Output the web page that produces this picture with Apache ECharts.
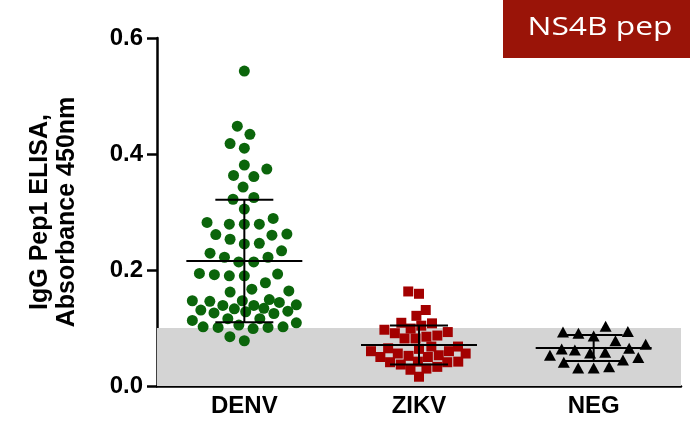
<!DOCTYPE html>
<html>
<head>
<meta charset="utf-8">
<script src="https://cdn.jsdelivr.net/npm/echarts@6/dist/echarts.min.js"></script>
<style>
  html, body { margin: 0; padding: 0; background: #ffffff; }
  #chart { width: 690px; height: 430px; }
</style>
</head>
<body>
<div id="chart"></div>
<script>
// Groups and per-sample absorbance readings
const categories = ['DENV', 'ZIKV', 'NEG'];

const denvValues = [
  0.543, 0.448, 0.434, 0.418, 0.410, 0.381, 0.374, 0.363, 0.361, 0.343,
  0.322, 0.325, 0.305, 0.289, 0.279, 0.279, 0.279, 0.282,
  0.262, 0.260, 0.261, 0.246, 0.245, 0.253, 0.229, 0.222, 0.214, 0.214,
  0.222, 0.233, 0.194, 0.190, 0.178, 0.190, 0.192, 0.193, 0.162, 0.167,
  0.164, 0.147, 0.146, 0.140, 0.139, 0.139, 0.144, 0.147, 0.149, 0.133,
  0.129, 0.126, 0.125, 0.128, 0.131, 0.134, 0.116, 0.113, 0.109, 0.116,
  0.102, 0.101, 0.099, 0.101, 0.102, 0.105, 0.078, 0.085
];

const zikvValues = [
  0.159, 0.163, 0.131, 0.121, 0.108, 0.109, 0.099, 0.093, 0.087, 0.082,
  0.104, 0.097, 0.091, 0.085, 0.082, 0.064, 0.060, 0.056, 0.052, 0.050,
  0.065, 0.060, 0.056, 0.053, 0.050, 0.068, 0.068, 0.042, 0.041, 0.037,
  0.030, 0.028, 0.033, 0.041, 0.042, 0.016
];

const negValues = [
  0.103, 0.094, 0.091, 0.093, 0.086, 0.078, 0.072, 0.064, 0.062, 0.058,
  0.065, 0.053, 0.057, 0.049, 0.045, 0.041, 0.033, 0.031, 0.031
];

// Mean and standard deviation per group
const meanValues = [0.2155, 0.0707, 0.0655];
const sdValues = [0.1055, 0.0338, 0.0225];

// Cut-off shading
const cutoffRange = [0, 0.1];

// Y axis ticks
const yMin = 0, yMax = 0.6, yStep = 0.2;

const FONT = "'Liberation Sans', Arial, sans-serif";
const chart = echarts.init(document.getElementById('chart'), null, { renderer: 'canvas' });

const baseOption = {
  animation: false,
  backgroundColor: '#ffffff',
  grid: { left: 157, right: 9, top: 38, bottom: 44 },
  xAxis: [
    {
      type: 'category',
      data: categories,
      axisLine: { lineStyle: { color: '#000', width: 2.5 } },
      axisTick: { alignWithLabel: true, length: 8, lineStyle: { color: '#000', width: 2.5 } },
      axisLabel: { color: '#000', fontFamily: FONT, fontWeight: 'bold', fontSize: 24, margin: 8 },
      splitLine: { show: false }
    },
    {
      type: 'value',
      min: -0.5, max: 2.5,
      show: false,
      splitLine: { show: false }
    }
  ],
  yAxis: {
    type: 'value',
    min: yMin, max: yMax, interval: yStep,
    name: 'IgG Pep1 ELISA,\nAbsorbance 450nm',
    nameLocation: 'middle',
    nameRotate: 90,
    nameGap: 76,
    nameTextStyle: { color: '#000', fontFamily: FONT, fontWeight: 'bold', fontSize: 25, lineHeight: 27 },
    axisLine: { show: true, onZero: false, lineStyle: { color: '#000', width: 2.5 } },
    axisTick: { show: true, length: 10, lineStyle: { color: '#000', width: 2.5 } },
    axisLabel: { color: '#000', fontFamily: FONT, fontWeight: 'bold', fontSize: 24, margin: 14,
                 formatter: v => v.toFixed(1) },
    splitLine: { show: false }
  },
  graphic: [
    { type: 'rect', right: 0, top: 0, shape: { width: 187, height: 58 },
      style: { fill: '#9a1408' }, z: 10 },
    { type: 'text', x: 600, y: 28, z: 11, scaleX: 1.27,
      style: { x: 0, y: 0, text: 'NS4B pep', fill: '#ffffff', font: "25px 'Open Sans', sans-serif",
               textAlign: 'center', textVerticalAlign: 'middle' } }
  ],
  series: []
};

chart.setOption(baseOption);

// Pixel helpers
const yPx = v => chart.convertToPixel({ yAxisIndex: 0 }, v);
const bandPx = chart.convertToPixel({ xAxisIndex: 1 }, 1) - chart.convertToPixel({ xAxisIndex: 1 }, 0);

// Beeswarm: place each point (low to high) at the nearest free horizontal slot,
// squeezing into the least crowded spot when the column is full.
function swarmOffsets(values, d, maxHalf) {
  const order = values.map((v, i) => i).sort((a, b) => values[a] - values[b]);
  const placed = [];
  const out = new Array(values.length);
  for (const i of order) {
    const y = yPx(values[i]);
    const near = placed.filter(p => Math.abs(p.y - y) < d);
    const blocks = near.map(p => {
      const w = Math.sqrt(d * d - (p.y - y) * (p.y - y));
      return [p.x - w, p.x + w];
    });
    const cands = [0];
    blocks.forEach(b => cands.push(b[0], b[1]));
    cands.sort((a, b) => Math.abs(a) - Math.abs(b) || a - b);
    let x = null;
    for (const c of cands) {
      if (Math.abs(c) > maxHalf) continue;
      if (blocks.every(b => c <= b[0] + 1e-6 || c >= b[1] - 1e-6)) { x = c; break; }
    }
    if (x === null) {
      let best = -1;
      for (let c = -maxHalf; c <= maxHalf; c += 0.5) {
        let md = Infinity;
        near.forEach(p => { md = Math.min(md, Math.hypot(p.x - c, p.y - y)); });
        if (md > best + 1e-6 || (Math.abs(md - best) < 1e-6 && Math.abs(c) < Math.abs(x))) { best = md; x = c; }
      }
    }
    placed.push({ x, y });
    out[i] = x;
  }
  return out;
}

function swarmData(values, catIndex, d, maxHalf) {
  const offs = swarmOffsets(values, d, maxHalf);
  return values.map((v, i) => [catIndex + offs[i] / bandPx, v]);
}

const statsData = categories.map((c, i) => [i, meanValues[i], sdValues[i]]);

chart.setOption({
  series: [
    {
      type: 'line', xAxisIndex: 1, data: [], z: 1, silent: true,
      markArea: {
        silent: true,
        itemStyle: { color: '#d4d4d4' },
        data: [[{ yAxis: cutoffRange[0] }, { yAxis: cutoffRange[1] }]]
      }
    },
    {
      name: categories[0], type: 'scatter', xAxisIndex: 1, z: 3,
      symbol: 'circle', symbolSize: 11,
      itemStyle: { color: '#0b650b', opacity: 1 },
      data: swarmData(denvValues, 0, 15, 52)
    },
    {
      name: categories[1], type: 'scatter', xAxisIndex: 1, z: 3,
      symbol: 'rect', symbolSize: 10,
      itemStyle: { color: '#a30000', opacity: 1 },
      data: swarmData(zikvValues, 1, 11, 52)
    },
    {
      name: categories[2], type: 'scatter', xAxisIndex: 1, z: 3,
      symbol: 'triangle', symbolSize: [12, 11],
      itemStyle: { color: '#000000', opacity: 1 },
      data: swarmData(negValues, 2, 15.5, 52)
    },
    {
      type: 'custom', xAxisIndex: 1, z: 5, silent: true,
      data: statsData,
      renderItem: (params, api) => {
        const c = api.value(0), m = api.value(1), s = api.value(2);
        const pm = api.coord([c, m]);
        const pu = api.coord([c, m + s]);
        const pl = api.coord([c, m - s]);
        const bw = api.size([1, 0])[0];
        const meanHalf = bw * 0.332, capHalf = bw * 0.166;
        const st = { stroke: '#000', lineWidth: 2 };
        return {
          type: 'group',
          children: [
            { type: 'line', shape: { x1: pm[0] - meanHalf, y1: pm[1], x2: pm[0] + meanHalf, y2: pm[1] }, style: st },
            { type: 'line', shape: { x1: pu[0] - capHalf, y1: pu[1], x2: pu[0] + capHalf, y2: pu[1] }, style: st },
            { type: 'line', shape: { x1: pl[0] - capHalf, y1: pl[1], x2: pl[0] + capHalf, y2: pl[1] }, style: st },
            { type: 'line', shape: { x1: pu[0], y1: pu[1], x2: pl[0], y2: pl[1] }, style: st }
          ]
        };
      }
    }
  ]
});
</script>
</body>
</html>
